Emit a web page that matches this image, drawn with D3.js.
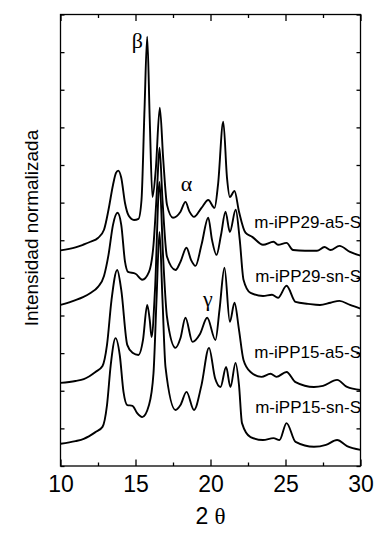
<!DOCTYPE html>
<html>
<head>
<meta charset="utf-8">
<script src="https://cdn.jsdelivr.net/npm/d3@7"></script>
<style>
  body { margin: 0; background: #fff; }
  svg { display: block; }
</style>
</head>
<body>
<div id="chart"></div>
<script>
// 2θ (deg) vs normalized intensity, curves already shifted vertically
const iPP29a5 = [
  [10.0,5.73],[11.0,5.81],[11.5,5.88],[12.0,5.96],[12.5,6.06],[12.9,6.28],[13.2,6.81],
  [13.5,7.47],[13.7,7.79],[13.85,7.85],[14.05,7.66],[14.3,6.99],[14.55,6.65],[14.9,6.54],
  [15.2,6.57],[15.4,7.07],[15.6,9.47],[15.78,11.41],[15.95,9.20],[16.13,7.15],[16.35,7.87],
  [16.62,9.52],[16.85,8.14],[17.1,6.94],[17.5,6.60],[18.0,6.76],[18.33,7.02],[18.6,6.76],
  [18.9,6.62],[19.4,6.86],[19.85,7.07],[20.27,6.86],[20.5,7.47],[20.85,9.15],[21.1,7.66],
  [21.29,7.15],[21.6,7.31],[21.9,6.76],[22.33,6.20],[22.78,6.09],[23.5,5.88],[24.2,5.96],
  [24.5,5.88],[25.07,5.93],[25.5,5.74],[26.3,5.72],[27.1,5.72],[27.6,5.82],[28.0,5.74],
  [28.6,5.85],[29.3,5.69],[30.0,5.59]
];
const iPP29sn = [
  [10.0,4.28],[11.0,4.41],[11.5,4.49],[12.0,4.60],[12.5,4.76],[12.9,5.05],[13.2,5.61],
  [13.5,6.41],[13.8,6.73],[14.05,6.41],[14.3,5.43],[14.5,5.16],[15.0,5.11],[15.45,4.95],
  [15.9,5.16],[16.2,5.88],[16.45,7.47],[16.6,8.46],[16.8,7.07],[17.1,5.56],[17.67,5.21],
  [18.0,5.43],[18.4,5.80],[18.7,5.48],[19.0,5.32],[19.4,5.88],[19.85,6.60],[20.1,6.01],
  [20.4,5.61],[20.7,6.14],[21.0,6.76],[21.29,6.22],[21.68,6.81],[21.95,6.01],[22.2,4.95],
  [22.67,4.60],[23.5,4.52],[24.1,4.55],[24.5,4.47],[25.07,4.79],[25.67,4.36],[26.5,4.31],
  [27.3,4.28],[28.0,4.34],[28.6,4.39],[29.3,4.28],[30.0,4.18]
];
const iPP15a5 = [
  [10.0,2.21],[11.0,2.26],[11.55,2.31],[12.33,2.50],[12.8,2.66],[13.1,3.22],[13.4,4.41],
  [13.78,5.21],[14.05,4.68],[14.45,3.22],[14.8,3.01],[15.2,2.95],[15.5,3.35],[15.78,4.28],
  [15.95,3.88],[16.07,3.43],[16.3,4.68],[16.6,7.55],[16.85,5.48],[17.1,3.96],[17.67,3.14],
  [18.0,3.40],[18.33,3.94],[18.8,3.30],[19.3,3.51],[19.78,3.94],[20.33,3.35],[20.6,4.15],
  [20.93,5.27],[21.29,3.83],[21.6,4.34],[21.9,3.62],[22.2,2.82],[22.67,2.50],[23.4,2.37],
  [24.0,2.45],[24.4,2.37],[25.07,2.50],[25.67,2.23],[26.9,2.10],[27.5,2.13],[28.44,2.29],
  [29.1,2.10],[30.0,2.02]
];
const iPP15sn = [
  [10.0,0.59],[11.0,0.66],[11.55,0.72],[12.33,0.90],[12.8,1.04],[13.1,1.62],[13.35,2.69],
  [13.67,3.40],[13.95,2.95],[14.2,1.97],[14.45,1.62],[14.8,1.60],[15.1,1.41],[15.45,1.30],
  [15.9,1.62],[16.2,2.47],[16.4,4.41],[16.6,6.22],[16.8,4.41],[17.0,2.63],[17.67,1.49],
  [18.0,1.62],[18.4,1.97],[18.9,1.49],[19.4,2.15],[19.9,3.14],[20.3,2.34],[20.67,2.10],
  [21.04,2.63],[21.33,2.10],[21.67,2.74],[21.9,2.15],[22.1,1.14],[22.67,0.77],[23.5,0.69],
  [24.2,0.74],[24.6,0.69],[25.07,1.14],[25.67,0.64],[26.9,0.51],[27.7,0.56],[28.44,0.69],
  [29.1,0.53],[30.0,0.43]
];
const seriesNames = ["m-iPP29-a5-S", "m-iPP29-sn-S", "m-iPP15-a5-S", "m-iPP15-sn-S"];
const xTicks = [10, 15, 20, 25, 30];
const xMinorTicks = [12.5, 17.5, 22.5, 27.5];
const yTicks = d3.range(0, 13);

const W = 374, H = 535;
const margin = {top: 14.5, right: 13.5, bottom: 69, left: 60.5};

const svg = d3.select("#chart").append("svg")
  .attr("width", W).attr("height", H);

const x = d3.scaleLinear().domain([10, 30]).range([margin.left, W - margin.right]);
const y = d3.scaleLinear().domain([0, 12]).range([H - margin.bottom, margin.top]);

const line = d3.line()
  .x(d => x(d[0]))
  .y(d => y(d[1]))
  .curve(d3.curveMonotoneX);

const allSeries = [iPP29a5, iPP29sn, iPP15a5, iPP15sn];
svg.append("g").selectAll("path")
  .data(allSeries)
  .join("path")
  .attr("d", line)
  .attr("fill", "none")
  .attr("stroke", "#000")
  .attr("stroke-width", 1.9)
  .attr("stroke-linejoin", "round");

// axes, ticks inside
function styleAxis(g) {
  g.select(".domain").remove();
  g.selectAll(".tick line").attr("stroke", "#000").attr("stroke-width", 1.3);
}

svg.append("g")
  .attr("transform", `translate(0,${y(0)})`)
  .call(d3.axisBottom(x).tickValues(xTicks).tickSize(-6.5).tickPadding(10).tickFormat(d3.format("d")))
  .call(styleAxis)
  .call(g => g.selectAll("text").attr("font-family", "Liberation Sans, Arial, sans-serif")
    .attr("font-size", 23).attr("fill", "#000"));
svg.append("g")
  .attr("transform", `translate(0,${y(0)})`)
  .call(d3.axisBottom(x).tickValues(xMinorTicks).tickSize(-3.5).tickFormat(""))
  .call(styleAxis);
svg.append("g")
  .attr("transform", `translate(0,${y(12)})`)
  .call(d3.axisTop(x).tickValues(xTicks).tickSize(-6.5).tickFormat(""))
  .call(styleAxis);
svg.append("g")
  .attr("transform", `translate(0,${y(12)})`)
  .call(d3.axisTop(x).tickValues(xMinorTicks).tickSize(-3.5).tickFormat(""))
  .call(styleAxis);
svg.append("g")
  .attr("transform", `translate(${x(10)},0)`)
  .call(d3.axisLeft(y).tickValues(yTicks).tickSize(-4).tickFormat(""))
  .call(styleAxis);
svg.append("g")
  .attr("transform", `translate(${x(30)},0)`)
  .call(d3.axisRight(y).tickValues(yTicks).tickSize(-4).tickFormat(""))
  .call(styleAxis);

// frame
svg.append("rect")
  .attr("x", x(10)).attr("y", y(12))
  .attr("width", x(30) - x(10)).attr("height", y(0) - y(12))
  .attr("fill", "none").attr("stroke", "#000").attr("stroke-width", 1.3);

// series labels
const labelY = [6.33, 4.89, 2.87, 1.41];
svg.append("g").selectAll("text")
  .data(seriesNames)
  .join("text")
  .attr("x", x(30) + 0.5)
  .attr("y", (d, i) => y(labelY[i]))
  .attr("text-anchor", "end")
  .attr("font-family", "Liberation Sans, Arial, sans-serif")
  .attr("font-size", 17)
  .text(d => d);

// phase labels
const phases = [
  {t: "β", x: 15.13, y: 11.1},
  {t: "α", x: 18.4, y: 7.3},
  {t: "γ", x: 19.83, y: 4.26}
];
svg.append("g").selectAll("text")
  .data(phases)
  .join("text")
  .attr("x", d => x(d.x))
  .attr("y", d => y(d.y))
  .attr("text-anchor", "middle")
  .attr("font-family", "Liberation Serif, Times New Roman, serif")
  .attr("font-size", 22)
  .text(d => d.t);

// axis titles
const xt = svg.append("text")
  .attr("x", x(20))
  .attr("y", 524)
  .attr("text-anchor", "middle")
  .attr("font-size", 23);
xt.append("tspan").attr("font-family", "Liberation Sans, Arial, sans-serif").text("2 ");
xt.append("tspan").attr("font-family", "Liberation Serif, Times New Roman, serif").text("θ");

svg.append("text")
  .attr("transform", "translate(38,228) rotate(-90)")
  .attr("text-anchor", "middle")
  .attr("font-family", "Liberation Sans, Arial, sans-serif")
  .attr("font-size", 19)
  .text("Intensidad normalizada");
</script>
</body>
</html>
